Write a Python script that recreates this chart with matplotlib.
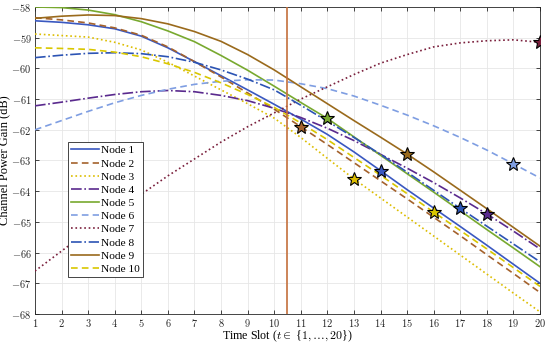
import matplotlib
matplotlib.use("Agg")
import matplotlib.pyplot as plt
from matplotlib.ticker import FuncFormatter, MultipleLocator

t = list(range(1, 21))

node1 = [-58.45, -58.50, -58.58, -58.71, -58.95, -59.33, -59.78, -60.24, -60.70, -61.17, -61.65, -62.15, -62.72, -63.33, -63.95, -64.55, -65.15, -65.76, -66.38, -67.00]
node2 = [-58.35, -58.42, -58.52, -58.68, -58.92, -59.30, -59.78, -60.28, -60.80, -61.33, -61.90, -62.48, -63.07, -63.66, -64.25, -64.85, -65.45, -66.07, -66.68, -67.30]
node3 = [-58.88, -58.93, -58.98, -59.15, -59.40, -59.80, -60.25, -60.70, -61.15, -61.62, -62.25, -62.93, -63.60, -64.22, -64.84, -65.46, -66.08, -66.70, -67.32, -67.93]
node4 = [-61.22, -61.10, -60.97, -60.85, -60.76, -60.72, -60.76, -60.88, -61.05, -61.30, -61.60, -61.95, -62.35, -62.80, -63.25, -63.72, -64.22, -64.74, -65.30, -65.88]
node5 = [-58.00, -58.02, -58.10, -58.25, -58.48, -58.78, -59.13, -59.58, -60.06, -60.58, -61.11, -61.63, -62.23, -62.83, -63.43, -64.03, -64.64, -65.25, -65.85, -66.46]
node6 = [-62.00, -61.70, -61.40, -61.12, -60.88, -60.68, -60.52, -60.42, -60.37, -60.38, -60.50, -60.66, -60.90, -61.20, -61.52, -61.87, -62.25, -62.66, -63.11, -63.57]
node7 = [-66.60, -65.95, -65.30, -64.70, -64.10, -63.50, -62.95, -62.40, -61.90, -61.45, -61.00, -60.60, -60.20, -59.83, -59.55, -59.30, -59.17, -59.10, -59.07, -59.15]
node8 = [-59.65, -59.57, -59.51, -59.49, -59.52, -59.62, -59.80, -60.05, -60.35, -60.70, -61.20, -61.72, -62.25, -62.80, -63.38, -63.97, -64.56, -65.14, -65.72, -66.30]
node9 = [-58.37, -58.30, -58.26, -58.28, -58.38, -58.55, -58.80, -59.12, -59.55, -60.05, -60.60, -61.15, -61.70, -62.24, -62.79, -63.37, -63.97, -64.57, -65.18, -65.79]
node10 = [-59.33, -59.35, -59.38, -59.47, -59.62, -59.85, -60.13, -60.47, -60.85, -61.27, -61.78, -62.32, -62.90, -63.48, -64.08, -64.68, -65.28, -65.88, -66.49, -67.10]

labels = ["Node 1", "Node 2", "Node 3", "Node 4", "Node 5",
          "Node 6", "Node 7", "Node 8", "Node 9", "Node 10"]
series = [node1, node2, node3, node4, node5, node6, node7, node8, node9, node10]
# selected time slot for each node (star markers)
star_slot = [14, 11, 13, 18, 12, 19, 20, 17, 15, 16]
split_slot = 10.5

colors = ["#3a58c0", "#a4622c", "#dcbd00", "#5a2a8e", "#78a92f",
          "#7f9ee2", "#7a1f3c", "#2c54b4", "#9a6a1c", "#d9c700"]
styles = ["-", (0, (4, 2.5)), ":", "-.", "-", (0, (4, 2.5)), ":", "-.", "-", (0, (4, 2.5))]

plt.rcParams["font.family"] = ["Liberation Serif", "DejaVu Serif"]
plt.rcParams["mathtext.fontset"] = "cm"

fig = plt.figure(figsize=(5.5, 3.44), dpi=100)
ax = fig.add_axes([0.0636, 0.0872, 0.9182, 0.8925])

ax.grid(True, color="#e6e6e6", linewidth=0.6, zorder=0)
ax.set_axisbelow(True)

for y, lab, c, ls in zip(series, labels, colors, styles):
    ax.plot(t, y, color=c, linestyle=ls, linewidth=1.2, label=lab, zorder=3)
for y, c, s in zip(series, colors, star_slot):
    ax.plot([s], [y[s - 1]], marker="*", markersize=10, markerfacecolor=c,
            markeredgecolor="black", markeredgewidth=0.8, linestyle="none", zorder=5)

ax.axvline(split_slot, color="#c4703c", linewidth=1.2, zorder=4)

ax.set_xlim(1, 20)
ax.set_ylim(-68, -58)
ax.xaxis.set_major_locator(MultipleLocator(1))
ax.yaxis.set_major_locator(MultipleLocator(1))
fmt = FuncFormatter(lambda v, p: r"$%d$" % round(v))
ax.xaxis.set_major_formatter(fmt)
ax.yaxis.set_major_formatter(fmt)
ax.tick_params(direction="in", top=True, right=True, labelsize=7.5, length=3,
               width=0.6, colors="#262626", pad=2.5)
ax.tick_params(axis="x", pad=1.8)
for sp in ax.spines.values():
    sp.set_color("#262626")
    sp.set_linewidth(0.6)

ax.set_xlabel(r"Time Slot ($t \in$ {$1,\ldots,20$})", fontsize=8.6, labelpad=0)
ax.set_ylabel("Channel Power Gain (dB)", fontsize=9, labelpad=0.5)

leg = ax.legend(loc="upper left", bbox_to_anchor=(0.065, 0.56), borderaxespad=0,
                fontsize=8.2, handlelength=2.4, handletextpad=0.2, labelspacing=0.28,
                borderpad=0.3, fancybox=False, edgecolor="#262626", framealpha=1)
leg.get_frame().set_linewidth(0.6)

fig.savefig("out.png", dpi=100)
